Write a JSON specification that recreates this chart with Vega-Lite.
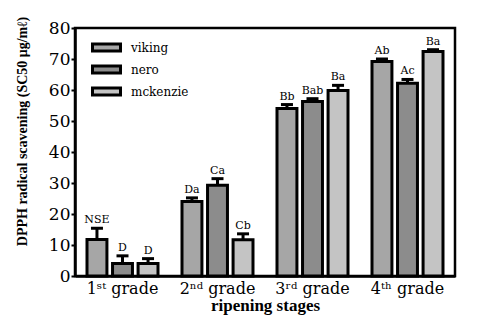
{
  "$schema": "https://vega.github.io/schema/vega-lite/v6.json",
  "width": 380,
  "height": 248,
  "autosize": "none",
  "padding": {"left": 75, "top": 28, "right": 28, "bottom": 52},
  "background": "white",
  "config": {
    "font": "DejaVu Serif",
    "view": {"stroke": "black", "strokeWidth": 2.5},
    "axis": {"grid": false, "domainColor": "black", "domainWidth": 2.5, "tickColor": "black", "labelColor": "black", "titleColor": "black"}
  },
  "data": {"values": [
    {"stage": "1ˢᵗ grade", "cultivar": "viking", "value": 11.8, "err": 15.4, "label": "NSE"},
    {"stage": "1ˢᵗ grade", "cultivar": "nero", "value": 4.0, "err": 6.5, "label": "D"},
    {"stage": "1ˢᵗ grade", "cultivar": "mckenzie", "value": 4.0, "err": 5.6, "label": "D"},
    {"stage": "2ⁿᵈ grade", "cultivar": "viking", "value": 24.0, "err": 25.2, "label": "Da"},
    {"stage": "2ⁿᵈ grade", "cultivar": "nero", "value": 29.3, "err": 31.4, "label": "Ca"},
    {"stage": "2ⁿᵈ grade", "cultivar": "mckenzie", "value": 11.7, "err": 13.6, "label": "Cb"},
    {"stage": "3ʳᵈ grade", "cultivar": "viking", "value": 54.0, "err": 55.3, "label": "Bb"},
    {"stage": "3ʳᵈ grade", "cultivar": "nero", "value": 56.3, "err": 57.2, "label": "Bab"},
    {"stage": "3ʳᵈ grade", "cultivar": "mckenzie", "value": 59.8, "err": 61.5, "label": "Ba"},
    {"stage": "4ᵗʰ grade", "cultivar": "viking", "value": 69.2, "err": 70.0, "label": "Ab"},
    {"stage": "4ᵗʰ grade", "cultivar": "nero", "value": 62.2, "err": 63.4, "label": "Ac"},
    {"stage": "4ᵗʰ grade", "cultivar": "mckenzie", "value": 72.4, "err": 73.0, "label": "Ba"}
  ]},
  "encoding": {
    "x": {"field": "stage", "type": "nominal", "sort": null,
      "scale": {"paddingInner": 0, "paddingOuter": 0},
      "axis": {"title": "ripening stages", "labelAngle": 0, "ticks": false, "labelFont": "DejaVu Serif", "labelFontSize": 16, "labelPadding": 4, "titleFont": "Liberation Serif", "titleFontSize": 17, "titleFontWeight": "bold", "titlePadding": 1}},
    "xOffset": {"field": "cultivar", "type": "nominal", "sort": ["viking", "nero", "mckenzie"],
      "scale": {"paddingInner": 0.22, "paddingOuter": 0.47}}
  },
  "layer": [
    {
      "mark": {"type": "bar", "stroke": "black", "strokeWidth": 3},
      "encoding": {
        "y": {"field": "value", "type": "quantitative",
          "scale": {"domain": [0, 80], "nice": false},
          "axis": {"title": "DPPH radical scavening (SC50 μg/mℓ)", "values": [0,10,20,30,40,50,60,70,80], "labelOverlap": false, "tickSize": 4, "tickWidth": 2, "labelPadding": 1, "labelFont": "DejaVu Serif", "labelFontSize": 17, "titleFont": "Liberation Serif", "titleFontSize": 14, "titleFontWeight": "bold", "titleX": -46, "titleY": 103}},
        "fill": {"field": "cultivar", "type": "nominal", "sort": ["viking", "nero", "mckenzie"],
          "scale": {"domain": ["viking", "nero", "mckenzie"], "range": ["#a6a6a6", "#8c8c8c", "#c4c4c4"]},
          "legend": {"title": null, "orient": "none", "legendX": 20, "legendY": 8, "labelFont": "DejaVu Serif", "labelFontSize": 12, "labelOffset": 13, "rowPadding": 1,
            "symbolType": "M-1.4,-0.35H1.4V0.35H-1.4Z", "symbolSize": 400, "symbolStrokeColor": "black", "symbolStrokeWidth": 3, "symbolOpacity": 1}}
      }
    },
    {
      "mark": {"type": "rule", "stroke": "black", "strokeWidth": 3},
      "encoding": {"y": {"field": "value", "type": "quantitative",
          "axis": {"title": "DPPH radical scavening (SC50 μg/mℓ)", "values": [0,10,20,30,40,50,60,70,80], "labelOverlap": false, "tickSize": 4, "tickWidth": 2, "labelPadding": 1, "labelFont": "DejaVu Serif", "labelFontSize": 17, "titleFont": "Liberation Serif", "titleFontSize": 14, "titleFontWeight": "bold", "titleX": -46, "titleY": 103}}, "y2": {"field": "err"}}
    },
    {
      "mark": {"type": "tick", "orient": "horizontal", "color": "black", "thickness": 3, "size": 12, "opacity": 1},
      "encoding": {"y": {"field": "err", "type": "quantitative",
          "axis": {"title": "DPPH radical scavening (SC50 μg/mℓ)", "values": [0,10,20,30,40,50,60,70,80], "labelOverlap": false, "tickSize": 4, "tickWidth": 2, "labelPadding": 1, "labelFont": "DejaVu Serif", "labelFontSize": 17, "titleFont": "Liberation Serif", "titleFontSize": 14, "titleFontWeight": "bold", "titleX": -46, "titleY": 103}}}
    },
    {
      "mark": {"type": "text", "baseline": "bottom", "dy": -3, "fontSize": 11, "font": "DejaVu Serif", "color": "black"},
      "encoding": {"y": {"field": "err", "type": "quantitative",
          "axis": {"title": "DPPH radical scavening (SC50 μg/mℓ)", "values": [0,10,20,30,40,50,60,70,80], "labelOverlap": false, "tickSize": 4, "tickWidth": 2, "labelPadding": 1, "labelFont": "DejaVu Serif", "labelFontSize": 17, "titleFont": "Liberation Serif", "titleFontSize": 14, "titleFontWeight": "bold", "titleX": -46, "titleY": 103}}, "text": {"field": "label"}}
    }
  ]
}
